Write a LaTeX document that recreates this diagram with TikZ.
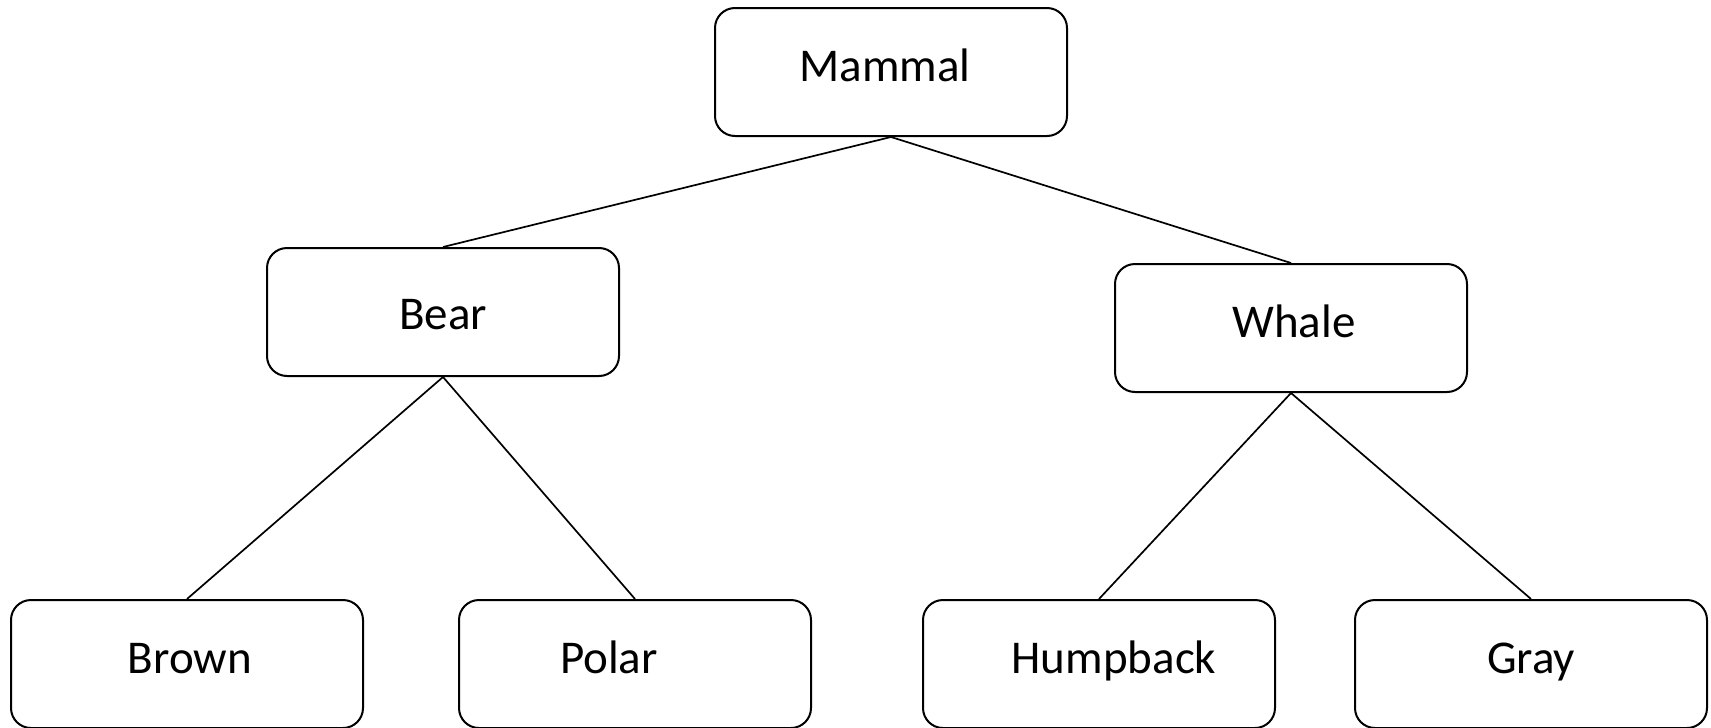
\documentclass[tikz,border=0pt]{standalone}
\usepackage{fontspec}
\setmainfont{Carlito}
\tikzset{
    catbox/.style={draw, line width=2pt, rounded corners=20pt, inner sep=0pt,
        minimum width=352pt, minimum height=128pt,
        text height=29pt, text depth=10pt, font=\fontsize{47}{56}\selectfont},
    link/.style={line width=1.7pt}
}

\begin{document}
\begin{tikzpicture}[x=1pt, y=-1pt]
    \useasboundingbox (0,0) rectangle (1711,728);
    % top level
    \node[catbox] (mammal) at (891,72) {Mammal\hspace*{12pt}};
    % second level
    \node[catbox] (bear)  at (443,312)  {\raisebox{-8pt}{Bear}};
    \node[catbox] (whale) at (1291,328) {\hspace*{6pt}Whale};
    % leaves
    \node[catbox] (brown)    at (187,664)  {\hspace*{6pt}Brown};
    \node[catbox] (polar)    at (635,664)  {Polar\hspace*{52pt}};
    \node[catbox] (humpback) at (1099,664) {\hspace*{30pt}Humpback};
    \node[catbox] (gray)     at (1531,664) {Gray};
    % connectors
    \draw[link] (mammal.south) -- (bear.north);
    \draw[link] (mammal.south) -- (whale.north);
    \draw[link] (bear.south) -- (brown.north);
    \draw[link] (bear.south) -- (polar.north);
    \draw[link] (whale.south) -- (humpback.north);
    \draw[link] (whale.south) -- (gray.north);
\end{tikzpicture}
\end{document}
